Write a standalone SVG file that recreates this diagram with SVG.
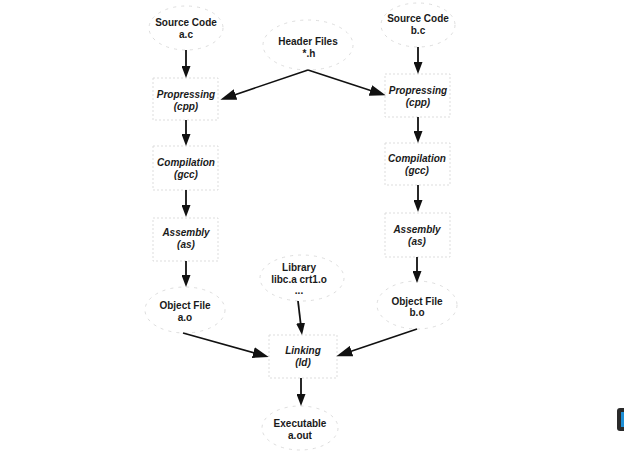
<svg xmlns="http://www.w3.org/2000/svg" width="624" height="457" viewBox="0 0 624 457">
<defs>
<style>
text{font-family:"Liberation Sans",Arial,sans-serif;font-size:10px;font-weight:bold;fill:#1a1a1a;text-anchor:middle}
.it{font-style:italic}
.file{fill:none;stroke:#d4d4d4;stroke-width:0.8;stroke-dasharray:3 5}
.step{fill:none;stroke:#d4d4d4;stroke-width:0.8;stroke-dasharray:2 2}
.v{stroke:#111;stroke-width:1.8;fill:none;marker-end:url(#ah)}
.d{stroke:#111;stroke-width:1.6;fill:none;marker-end:url(#ahl)}
</style>
<marker id="ah" markerUnits="userSpaceOnUse" markerWidth="12" markerHeight="9" refX="6" refY="4.5" orient="auto">
<path d="M0,0 L12,4.5 L0,9 z" fill="#111"/>
</marker>
<marker id="ahl" markerUnits="userSpaceOnUse" markerWidth="16" markerHeight="11" refX="9" refY="5.5" orient="auto">
<path d="M0,0 L16,5.5 L0,11 z" fill="#111"/>
</marker>
</defs>
<rect width="624" height="457" fill="#fff"/>

<g id="src-a"><ellipse class="file" cx="186" cy="28" rx="37" ry="22"/><text x="186" y="26">Source Code</text><text x="186" y="38">a.c</text></g>
<g id="hdr"><ellipse class="file" cx="308" cy="45" rx="45" ry="25"/><text x="308" y="45">Header Files</text><text x="309" y="57">*.h</text></g>
<g id="src-b"><ellipse class="file" cx="418" cy="25" rx="37" ry="22"/><text x="418" y="21.5">Source Code</text><text x="418" y="33.5">b.c</text></g>

<g id="cpp-a"><rect class="step" x="153" y="78" width="65" height="42"/><text class="it" x="186" y="97.5">Propressing</text><text class="it" x="186" y="110">(cpp)</text></g>
<g id="gcc-a"><rect class="step" x="153" y="146" width="65" height="44"/><text class="it" x="186" y="166">Compilation</text><text class="it" x="186" y="178">(gcc)</text></g>
<g id="as-a"><rect class="step" x="153" y="218" width="65" height="43"/><text class="it" x="186" y="236">Assembly</text><text class="it" x="186" y="248">(as)</text></g>
<g id="obj-a"><ellipse class="file" cx="185" cy="310" rx="40" ry="23"/><text x="185" y="308.5">Object File</text><text x="185" y="320.5">a.o</text></g>

<g id="cpp-b"><rect class="step" x="385" y="74" width="65" height="43"/><text class="it" x="418" y="94">Propressing</text><text class="it" x="418" y="106">(cpp)</text></g>
<g id="gcc-b"><rect class="step" x="385" y="143" width="65" height="42"/><text class="it" x="417" y="162">Compilation</text><text class="it" x="417" y="174">(gcc)</text></g>
<g id="as-b"><rect class="step" x="385" y="213" width="65" height="44"/><text class="it" x="417" y="233">Assembly</text><text class="it" x="417" y="245">(as)</text></g>
<g id="obj-b"><ellipse class="file" cx="417" cy="305" rx="40" ry="24"/><text x="417" y="304.5">Object File</text><text x="417" y="316">b.o</text></g>

<g id="lib"><ellipse class="file" cx="302" cy="278" rx="42" ry="23"/><text x="299" y="271">Library</text><text x="299" y="283">libc.a crt1.o</text><text x="299" y="294">...</text></g>
<g id="ld"><rect class="step" x="269" y="335" width="68" height="43"/><text class="it" x="303" y="354">Linking</text><text class="it" x="303" y="366">(ld)</text></g>
<g id="exe"><ellipse class="file" cx="300" cy="428" rx="38" ry="22"/><text x="300" y="427">Executable</text><text x="300" y="438.5">a.out</text></g>

<g id="connectors">
<line class="v" x1="186" y1="50" x2="186" y2="72"/>
<line class="v" x1="186" y1="120" x2="186" y2="140"/>
<line class="v" x1="186" y1="190" x2="186" y2="211"/>
<line class="v" x1="186" y1="261" x2="186" y2="281"/>
<line class="v" x1="418" y1="47" x2="418" y2="68"/>
<line class="v" x1="418" y1="117" x2="418" y2="137"/>
<line class="v" x1="418" y1="185" x2="418" y2="206"/>
<line class="v" x1="417" y1="257" x2="417" y2="277"/>
<line class="d" x1="308" y1="70" x2="227" y2="97.4"/>
<line class="d" x1="308" y1="70" x2="379" y2="93.2"/>
<line class="d" x1="183" y1="333" x2="262" y2="355"/>
<line class="d" x1="417" y1="329" x2="343" y2="354"/>
<line class="v" x1="298" y1="301" x2="301.3" y2="329"/>
<line class="v" x1="301" y1="378" x2="301" y2="400"/>
</g>
<rect x="617" y="408" width="10" height="23" rx="3" fill="#2a2a2a"/>
<rect x="621" y="412" width="4" height="15" fill="#1d8fd6"/>
</svg>
